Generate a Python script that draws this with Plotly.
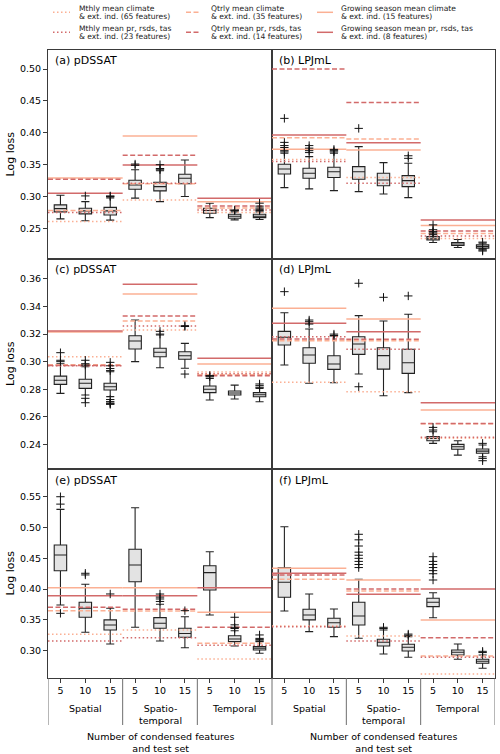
import plotly.graph_objects as go

# ---------------- text / categories ----------------
PANEL_TITLES = ["(a) pDSSAT", "(b) LPJmL", "(c) pDSSAT", "(d) LPJmL", "(e) pDSSAT", "(f) LPJmL"]
FEATURE_COUNTS = ["5", "10", "15"]
GROUP_LABELS = ["Spatial", "Spatio-<br>temporal", "Temporal"]
X_TITLE = "Number of condensed features<br>and test set"
Y_TITLE = "Log loss"
LEGEND_LABELS = [
    ["Mthly mean climate", "& ext. ind. (65 features)"],
    ["Qtrly mean climate", "& ext. ind. (35 features)"],
    ["Growing season mean climate", "& ext. ind. (15 features)"],
    ["Mthly mean pr, rsds, tas", "& ext. ind. (23 features)"],
    ["Qtrly mean pr, rsds, tas", "& ext. ind. (14 features)"],
    ["Growing season mean pr, rsds, tas", "& ext. ind. (8 features)"],
]

# y tick labels per row
ROW_YTICKS = [
    [0.25, 0.30, 0.35, 0.40, 0.45, 0.50],
    [0.24, 0.26, 0.28, 0.30, 0.32, 0.34, 0.36],
    [0.30, 0.35, 0.40, 0.45, 0.50, 0.55],
]
ROW_YRANGE = [[0.202, 0.530], [0.2221, 0.3745], [0.2557, 0.595]]

# ---------------- reference lines: [panel][group: spatial, spatio-temporal, temporal] ----------------
MTHLY_CLIM = [[0.261, 0.2947, 0.275], [0.358, 0.330, 0.234], [0.3036, 0.323, 0.2925],
              [0.285, 0.2782, 0.2444], [0.3267, 0.3337, 0.2866], [0.3401, 0.3239, 0.262]]
QTRLY_CLIM = [[0.278, 0.320, 0.282], [0.3924, 0.3903, 0.242], [0.2978, 0.3295, 0.2905],
              [0.3152, 0.3152, 0.2550], [0.365, 0.3645, 0.312], [0.416, 0.397, 0.2915]]
GS_CLIM = [[0.329, 0.395, 0.292], [0.3742, 0.373, 0.2545], [0.3215, 0.3491, 0.2983],
           [0.3387, 0.331, 0.2649], [0.4023, 0.4023, 0.3624], [0.4338, 0.4148, 0.350]]
MTHLY_PRS = [[0.275, 0.321, 0.279], [0.355, 0.321, 0.238], [0.2970, 0.3259, 0.2913],
             [0.318, 0.309, 0.2452], [0.3158, 0.3212, 0.309], [0.339, 0.3158, 0.2895]]
QTRLY_PRS = [[0.327, 0.3648, 0.285], [0.500, 0.4478, 0.246], [0.2973, 0.3331, 0.2898],
             [0.3165, 0.3162, 0.2552], [0.3705, 0.3672, 0.338], [0.4229, 0.400, 0.3212]]
GS_PRS = [[0.305, 0.3496, 0.2974], [0.3966, 0.3845, 0.2634], [0.3222, 0.3561, 0.3024],
          [0.3278, 0.3217, 0.2702], [0.3893, 0.3893, 0.4023], [0.4257, 0.3916, 0.400]]

# ---------------- box statistics: [panel][9 boxes] ----------------
BOX_LO = [
    [0.265, 0.262, 0.263, 0.2975, 0.292, 0.300, 0.267, 0.2634, 0.264],
    [0.314, 0.312, 0.3093, 0.3077, 0.304, 0.2983, 0.228, 0.2201, 0.2175],
    [0.277, 0.2758, 0.2746, 0.300, 0.2956, 0.2952, 0.2722, 0.2729, 0.2709],
    [0.2976, 0.2843, 0.2847, 0.291, 0.2753, 0.2775, 0.2407, 0.2322, 0.231],
    [0.3742, 0.330, 0.3109, 0.338, 0.3158, 0.3049, 0.358, 0.3077, 0.2958],
    [0.3645, 0.331, 0.3228, 0.3202, 0.2947, 0.2894, 0.3536, 0.2861, 0.2715],
]
BOX_Q1 = [
    [0.276, 0.2728, 0.271, 0.3115, 0.3089, 0.320, 0.2739, 0.266, 0.267],
    [0.3355, 0.3287, 0.330, 0.3272, 0.317, 0.3156, 0.232, 0.2232, 0.219],
    [0.2835, 0.2806, 0.2794, 0.3092, 0.3036, 0.3017, 0.2775, 0.2758, 0.2745],
    [0.3121, 0.2988, 0.2944, 0.3053, 0.2946, 0.2915, 0.2426, 0.2364, 0.2335],
    [0.4299, 0.3543, 0.3336, 0.412, 0.3364, 0.3218, 0.3986, 0.3147, 0.3012],
    [0.3867, 0.350, 0.338, 0.3418, 0.3077, 0.2995, 0.3715, 0.2931, 0.2796],
]
BOX_MED = [
    [0.281, 0.2775, 0.2775, 0.3182, 0.3156, 0.3287, 0.278, 0.269, 0.269],
    [0.3433, 0.3366, 0.339, 0.339, 0.326, 0.325, 0.2346, 0.2256, 0.2215],
    [0.2865, 0.2843, 0.2818, 0.315, 0.3068, 0.3043, 0.280, 0.2773, 0.276],
    [0.3177, 0.3048, 0.2983, 0.3128, 0.3044, 0.2992, 0.2443, 0.2383, 0.2351],
    [0.4554, 0.3689, 0.3418, 0.4392, 0.3445, 0.328, 0.4267, 0.319, 0.304],
    [0.4111, 0.358, 0.3455, 0.3564, 0.3137, 0.3056, 0.3786, 0.2975, 0.283],
]
BOX_Q3 = [
    [0.287, 0.2817, 0.283, 0.3256, 0.3225, 0.335, 0.2817, 0.2723, 0.2723],
    [0.3507, 0.3444, 0.346, 0.347, 0.3366, 0.3328, 0.2372, 0.228, 0.2242],
    [0.2895, 0.2872, 0.2843, 0.3188, 0.3097, 0.3072, 0.2823, 0.2787, 0.2775],
    [0.322, 0.3101, 0.3043, 0.3181, 0.3101, 0.309, 0.2457, 0.240, 0.2366],
    [0.4716, 0.3786, 0.350, 0.4646, 0.3537, 0.3364, 0.438, 0.3244, 0.3066],
    [0.4348, 0.3673, 0.3526, 0.3786, 0.3186, 0.3105, 0.3851, 0.3012, 0.2861],
]
BOX_HI = [
    [0.302, 0.292, 0.298, 0.342, 0.3406, 0.3574, 0.2896, 0.276, 0.276],
    [0.3679, 0.3626, 0.368, 0.3783, 0.3532, 0.3522, 0.240, 0.2325, 0.2269],
    [0.2985, 0.2963, 0.2927, 0.3302, 0.3193, 0.3133, 0.2879, 0.283, 0.2806],
    [0.3355, 0.3237, 0.3186, 0.3334, 0.3295, 0.3344, 0.2491, 0.2426, 0.2395],
    [0.5295, 0.4078, 0.3689, 0.5322, 0.3754, 0.3552, 0.4607, 0.3325, 0.3147],
    [0.5013, 0.392, 0.3678, 0.416, 0.3337, 0.3228, 0.3942, 0.311, 0.2931],
]
OUTLIERS = [
    [[], [0.301], [0.300, 0.301], [0.349, 0.351], [0.342, 0.344, 0.350], [], [],
     [0.278, 0.279], [0.278, 0.280, 0.282, 0.285, 0.2896]],
    [[0.370, 0.372, 0.377, 0.380, 0.385, 0.4227], [0.369, 0.372, 0.376, 0.380],
     [0.370, 0.372, 0.374], [0.407], [], [0.360, 0.364],
     [0.241, 0.243, 0.245, 0.248, 0.2556], [], [0.2285, 0.2160, 0.2145]],
    [[0.300, 0.301, 0.3065], [0.2975, 0.2985, 0.301, 0.2734, 0.2702],
     [0.2935, 0.295, 0.297, 0.2995, 0.2725, 0.271, 0.270, 0.2695, 0.269],
     [], [0.320, 0.322], [0.3255, 0.3261, 0.291], [0.2891, 0.290], [],
     [0.2814, 0.2826, 0.2838]],
    [[0.3508], [0.3273, 0.329, 0.3302], [0.319, 0.320], [0.3569, 0.2818], [0.3467],
     [0.3477], [0.2504, 0.2523], [], [0.2407, 0.2298, 0.2281]],
    [[0.538, 0.55, 0.3607], [0.423, 0.4257], [0.3921], [], [0.380, 0.384, 0.387, 0.392],
     [0.365], [], [0.336, 0.338, 0.342, 0.3543], [0.316, 0.318, 0.320, 0.3256]],
    [[], [], [], [0.435, 0.44, 0.445, 0.45, 0.455, 0.46, 0.47, 0.48, 0.489], [0.336, 0.338],
     [0.325, 0.327], [0.4148, 0.425, 0.43, 0.435, 0.44, 0.445, 0.4526], [], [0.297, 0.299]],
]

# ---------------- styling ----------------
W, H = 500, 754
LIGHT = "#fbb094"
DARK = "#d26a6a"
DOT = "1.5px,2.5px"
DASH = "5px,2.5px"
SERIES = [MTHLY_CLIM, QTRLY_CLIM, GS_CLIM, MTHLY_PRS, QTRLY_PRS, GS_PRS]
SERIES_COLORS = [LIGHT, LIGHT, LIGHT, DARK, DARK, DARK]
SERIES_DASH = [DOT, DASH, "solid", DOT, DASH, "solid"]
FRAME = "#3a3a3a"
FONT = "DejaVu Sans"

PX = lambda x: x / W
PY = lambda y: 1 - y / H

COL_X = [(48, 272), (272, 495)]
ROW_Y = [(50, 259), (259, 469), (469, 678)]

fig = go.Figure()

for p in range(6):
    r, c = divmod(p, 2)
    suffix = "" if p == 0 else str(p + 1)
    xa, ya = "x" + suffix, "y" + suffix
    # reference lines
    for s, vals in enumerate(SERIES):
        xs, ys = [], []
        for g in range(3):
            xs += [3 * g - 0.5, 3 * g + 2.5, None]
            ys += [vals[p][g], vals[p][g], None]
        fig.add_trace(go.Scatter(x=xs, y=ys, mode="lines", xaxis=xa, yaxis=ya,
                                 line=dict(color=SERIES_COLORS[s], width=1.5, dash=SERIES_DASH[s]),
                                 showlegend=False, hoverinfo="skip"))
    # boxes
    fig.add_trace(go.Box(x=list(range(9)), q1=BOX_Q1[p], median=BOX_MED[p], q3=BOX_Q3[p],
                         lowerfence=BOX_LO[p], upperfence=BOX_HI[p], width=0.5,
                         fillcolor="#e3e3e3", line=dict(color="#222222", width=1.1),
                         whiskerwidth=0.65, boxpoints=False, xaxis=xa, yaxis=ya, showlegend=False))
    ox, oy = [], []
    for i, outs in enumerate(OUTLIERS[p]):
        ox += [i] * len(outs)
        oy += outs
    fig.add_trace(go.Scatter(x=ox, y=oy, mode="markers", xaxis=xa, yaxis=ya,
                             marker=dict(symbol="cross-thin", size=6, color="#111111",
                                         line=dict(width=1, color="#111111")),
                             showlegend=False, hoverinfo="skip"))

    x0, x1 = COL_X[c]
    y0, y1 = ROW_Y[r]
    bottom = r == 2
    fig.layout["xaxis" + suffix] = dict(
        domain=[PX(x0), PX(x1)], anchor=ya, range=[-0.5, 8.5], type="linear",
        tickvals=list(range(9)), ticktext=FEATURE_COUNTS * 3,
        showticklabels=bottom, ticks="outside" if bottom else "", ticklen=4, tickcolor=FRAME,
        tickfont=dict(size=9.5, family=FONT, color="black"),
        showline=True, mirror=True, linecolor=FRAME, linewidth=1,
        showgrid=False, zeroline=False, fixedrange=True)
    yax = dict(domain=[PY(y1), PY(y0)], anchor=xa, range=ROW_YRANGE[r],
               showline=True, mirror=True, linecolor=FRAME, linewidth=1,
               showgrid=False, zeroline=False, fixedrange=True)
    if c == 0:
        yax.update(tickvals=ROW_YTICKS[r], ticktext=[f"{v:.2f}" for v in ROW_YTICKS[r]],
                   ticks="outside", ticklen=4, tickcolor=FRAME,
                   tickfont=dict(size=9.5, family=FONT, color="black"))
    else:
        yax.update(showticklabels=False, ticks="")
    fig.layout["yaxis" + suffix] = yax

annotations = []
shapes = []
# panel titles
for p in range(6):
    r, c = divmod(p, 2)
    annotations.append(dict(text=PANEL_TITLES[p], xref="paper", yref="paper",
                            x=PX(COL_X[c][0] + 5), y=PY(ROW_Y[r][0] + 11),
                            xanchor="left", yanchor="middle", showarrow=False,
                            font=dict(size=11, family=FONT, color="black")))
# y titles
for r in range(3):
    annotations.append(dict(text=Y_TITLE, xref="paper", yref="paper", x=PX(10),
                            y=PY((ROW_Y[r][0] + ROW_Y[r][1]) / 2), textangle=-90,
                            xanchor="center", yanchor="middle", showarrow=False,
                            font=dict(size=11, family=FONT, color="black")))
# group labels, separators and x titles
for c, xa in enumerate(["x5", "x6"]):
    for g in range(3):
        annotations.append(dict(text=GROUP_LABELS[g], xref=xa, yref="paper", x=3 * g + 1,
                                y=PY(701), xanchor="center", yanchor="top", showarrow=False,
                                font=dict(size=9.5, family=FONT, color="black")))
    for b in [-0.5, 2.5, 5.5, 8.5]:
        shapes.append(dict(type="line", xref=xa, yref="paper", x0=b, x1=b,
                           y0=PY(678), y1=PY(725), line=dict(color="#6e6e6e", width=1)))
    annotations.append(dict(text=X_TITLE, xref="paper", yref="paper",
                            x=PX((COL_X[c][0] + COL_X[c][1]) / 2), y=PY(729),
                            xanchor="center", yanchor="top", showarrow=False,
                            font=dict(size=9.5, family=FONT, color="black")))
# legend (manual, 3 columns x 2 rows)
LEG_SAMPLE_X = [(53, 70), (186, 201), (317, 333)]
LEG_TEXT_X = [77, 208.5, 339]
LEG_ROW_Y = [12.3, 32.3]
for k in range(6):
    row, col = divmod(k, 3)
    yc = LEG_ROW_Y[row]
    shapes.append(dict(type="line", xref="paper", yref="paper",
                       x0=PX(LEG_SAMPLE_X[col][0]), x1=PX(LEG_SAMPLE_X[col][1]),
                       y0=PY(yc), y1=PY(yc),
                       line=dict(color=SERIES_COLORS[k], width=1.5, dash=SERIES_DASH[k])))
    for li, txt in enumerate(LEGEND_LABELS[k]):
        annotations.append(dict(text=txt, xref="paper", yref="paper", x=PX(LEG_TEXT_X[col]),
                                y=PY(yc - 4.2 + 8.4 * li), xanchor="left", yanchor="middle",
                                showarrow=False, font=dict(size=7.6, family=FONT, color="#222222")))

fig.update_layout(width=W, height=H, autosize=False, margin=dict(l=0, r=0, t=0, b=0),
                  paper_bgcolor="white", plot_bgcolor="white", showlegend=False,
                  annotations=annotations, shapes=shapes,
                  font=dict(family=FONT, color="black"))

fig.write_html("out.html")
